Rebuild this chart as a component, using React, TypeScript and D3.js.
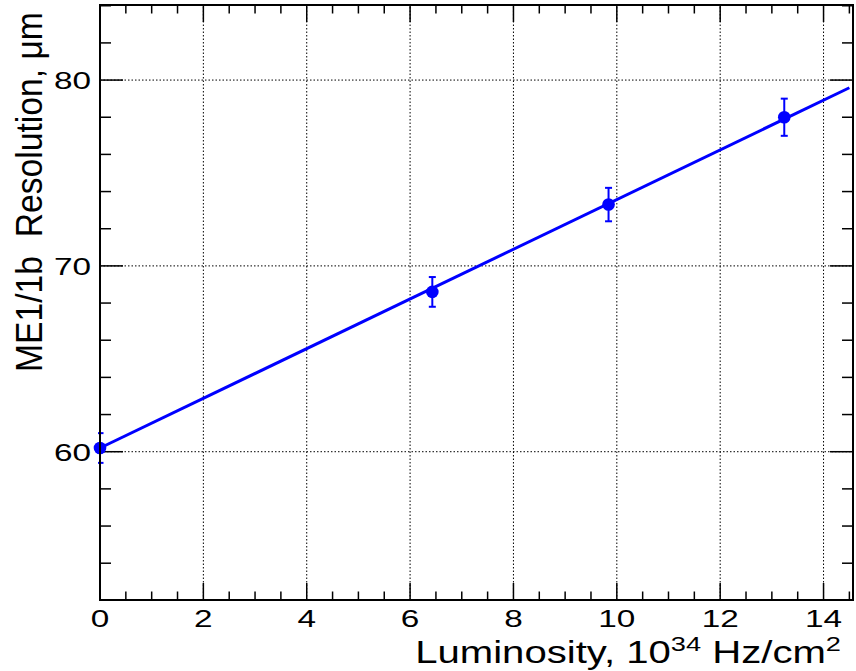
import React, { useLayoutEffect, useRef, useState } from 'react';
import * as d3 from 'd3';

// Measured resolution vs. instantaneous luminosity
const luminosity = [0, 6.43, 9.84, 13.24];
const resolution = [60.2, 68.6, 73.3, 78.0];
const resolutionErr = [0.8, 0.8, 0.9, 1.0];

// Linear fit result
const fitRange = [0, 14.5];
const fitIntercept = 60.2;
const fitSlope = 1.337;

const xMajorTicks = [0, 2, 4, 6, 8, 10, 12, 14];
const yMajorTicks = [60, 70, 80];
const xDomain = [0, 14.57];
const yDomain = [52.02, 84.04];

const W = 856;
const H = 671;
const FONT = "'Liberation Sans', Arial, Helvetica, sans-serif";
const BLUE = '#0000ff';

// Text stretched along its baseline to span a given width
function FitText({ x, y, width, anchor = 'start', rotate = 0, fontSize, children }) {
  const ref = useRef(null);
  const [sx, setSx] = useState(1);
  useLayoutEffect(() => {
    if (ref.current) {
      const w = ref.current.getBBox().width;
      if (w > 0) setSx(width / w);
    }
  }, [width]);
  return (
    <g transform={`translate(${x},${y}) rotate(${rotate}) scale(${sx},1)`}>
      <text
        ref={ref}
        textAnchor={anchor}
        fontFamily={FONT}
        fontSize={fontSize}
        fill="#000"
        xmlSpace="preserve"
        style={{ whiteSpace: 'pre' }}
      >
        {children}
      </text>
    </g>
  );
}

export default function App() {
  const x = d3.scaleLinear().domain(xDomain).range([100, 853]);
  const y = d3.scaleLinear().domain(yDomain).range([600, 5]);
  const [x0, x1] = x.range();
  const [y0, y1] = y.range();

  const xMinor = d3.range(0.5, xDomain[1], 0.5).filter((v) => !xMajorTicks.includes(v));
  const yMinor = d3.range(54, yDomain[1], 2).filter((v) => !yMajorTicks.includes(v));

  const fitLine = d3
    .line<number>()
    .x((d) => x(d))
    .y((d) => y(fitIntercept + fitSlope * d));

  const tickFont = 24.5;
  const tickScale = 1.36;

  return (
    <svg
      width={W}
      height={H}
      style={{ position: 'absolute', left: 0, top: 0, background: '#fff' }}
    >
      <defs>
        <clipPath id="plotClip">
          <rect x={x0 - 2} y={y1} width={x1 - x0 + 2} height={y0 - y1} />
        </clipPath>
      </defs>
      <rect x={0} y={0} width={W} height={H} fill="#fff" />

      {/* grid */}
      <g stroke="#000" strokeWidth={1} strokeDasharray="1.5,2">
        {xMajorTicks.filter((v) => v > 0).map((v) => (
          <line key={`gx${v}`} x1={x(v)} x2={x(v)} y1={y0} y2={y1} />
        ))}
        {yMajorTicks.map((v) => (
          <line key={`gy${v}`} x1={x0} x2={x1} y1={y(v)} y2={y(v)} />
        ))}
      </g>

      {/* ticks on all four sides */}
      <g stroke="#000" strokeWidth={1.5}>
        {xMajorTicks.map((v) => (
          <g key={`tx${v}`}>
            <line x1={x(v)} x2={x(v)} y1={y0} y2={y0 - 17} />
            <line x1={x(v)} x2={x(v)} y1={y1} y2={y1 + 17} />
          </g>
        ))}
        {xMinor.map((v) => (
          <g key={`mx${v}`}>
            <line x1={x(v)} x2={x(v)} y1={y0} y2={y0 - 8.5} />
            <line x1={x(v)} x2={x(v)} y1={y1} y2={y1 + 8.5} />
          </g>
        ))}
        {yMajorTicks.map((v) => (
          <g key={`ty${v}`}>
            <line x1={x0} x2={x0 + 23} y1={y(v)} y2={y(v)} />
            <line x1={x1} x2={x1 - 23} y1={y(v)} y2={y(v)} />
          </g>
        ))}
        {yMinor.map((v) => (
          <g key={`my${v}`}>
            <line x1={x0} x2={x0 + 11} y1={y(v)} y2={y(v)} />
            <line x1={x1} x2={x1 - 11} y1={y(v)} y2={y(v)} />
          </g>
        ))}
      </g>

      {/* fit */}
      <path d={fitLine(fitRange) ?? ''} fill="none" stroke={BLUE} strokeWidth={3} />

      {/* error bars */}
      <g stroke={BLUE} strokeWidth={2} clipPath="url(#plotClip)">
        {luminosity.map((l, i) => {
          const cx = x(l);
          const top = y(resolution[i] + resolutionErr[i]);
          const bot = y(resolution[i] - resolutionErr[i]);
          return (
            <g key={`e${i}`}>
              <line x1={cx} x2={cx} y1={top} y2={bot} />
              <line x1={cx - 3.5} x2={cx + 3.5} y1={top} y2={top} />
              <line x1={cx - 3.5} x2={cx + 3.5} y1={bot} y2={bot} />
            </g>
          );
        })}
      </g>

      {/* markers */}
      {luminosity.map((l, i) => (
        <circle key={`p${i}`} cx={x(l)} cy={y(resolution[i])} r={6.3} fill={BLUE} />
      ))}

      {/* frame */}
      <rect
        x={x0}
        y={y1}
        width={x1 - x0}
        height={y0 - y1}
        fill="none"
        stroke="#000"
        strokeWidth={2}
      />

      {/* tick labels */}
      <g fontFamily={FONT} fontSize={tickFont} fill="#000">
        {xMajorTicks.map((v) => (
          <text
            key={`lx${v}`}
            transform={`translate(${x(v)},${627}) scale(${tickScale},1)`}
            textAnchor="middle"
          >
            {v}
          </text>
        ))}
        {yMajorTicks.map((v) => (
          <text
            key={`ly${v}`}
            transform={`translate(${91},${y(v) + 8.8}) scale(${tickScale},1)`}
            textAnchor="end"
          >
            {v}
          </text>
        ))}
      </g>

      {/* axis titles */}
      <FitText x={841} y={663} width={426} anchor="end" fontSize={31}>
        Luminosity, 10
        <tspan fontSize={21} dy={-12}>34</tspan>
        <tspan dy={12}> Hz/cm</tspan>
        <tspan fontSize={21} dy={-12}>2</tspan>
      </FitText>
      <FitText x={42} y={372} width={360} anchor="start" rotate={-90} fontSize={37}>
        {'ME1/1b  Resolution, μm'}
      </FitText>
    </svg>
  );
}
